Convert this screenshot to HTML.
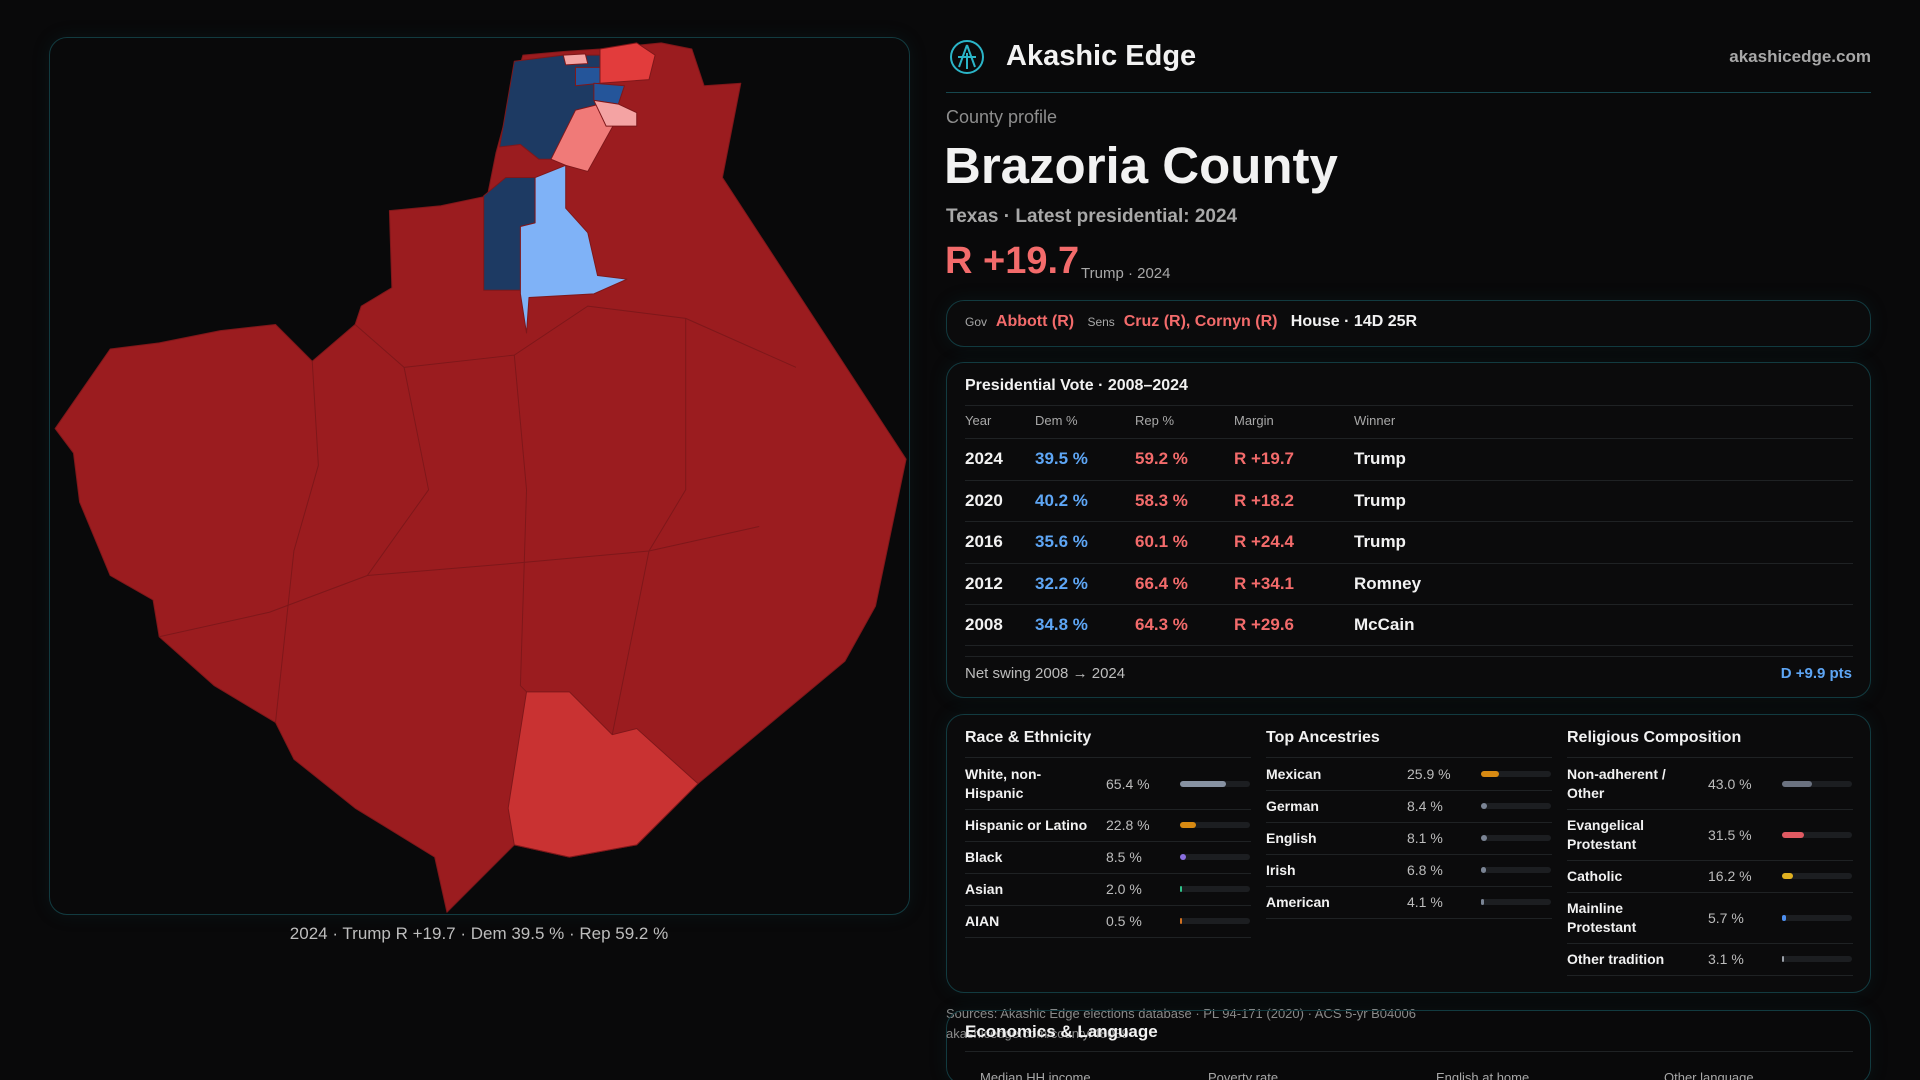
<!DOCTYPE html>
<html style="width:1920px;height:1080px;overflow:hidden"><head><meta charset="utf-8"><style>
*{margin:0;padding:0;box-sizing:border-box}
body{width:1920px;height:1080px;background:#09090a;font-family:"Liberation Sans",sans-serif;color:#f2f2f2;position:relative;overflow:hidden}
.a{position:absolute;white-space:nowrap}
.panel{position:absolute;border:1px solid #123b40;border-radius:18px;background:#0b0b0c;box-shadow:0 0 18px rgba(20,80,90,.15)}
.r{color:#f36b6b}.b{color:#5ea6f5}.g{color:#a8a8a8}
.hr{position:absolute;height:1px;background:#1f2224}
.bar{position:absolute;height:6px;border-radius:3px;background:#1c1e21;width:70px}
.bar i{position:absolute;left:0;top:0;bottom:0;border-radius:3px}
</style></head><body>
<div class="panel" style="left:49px;top:37px;width:861px;height:878px;background:#09090a"></div>
<svg class="a" style="left:0;top:0" width="1920" height="1080" viewBox="0 0 1568 882">
<g stroke="#7e171a" stroke-width="0.8" stroke-linejoin="round">
<polygon fill="#9b1c1f" points="427,45 460,42 490,40 540,35 565,40 575,70 605,68 590,145 740,375 715,495 690,540 570,640 520,690 465,700 420,690 365,745 355,700 290,660 240,620 225,590 175,560 130,520 125,490 90,470 65,410 60,370 45,350 90,285 130,280 180,270 225,265 255,295 290,265 295,250 320,235 318,172 360,168 398,160 405,125 420,70"/>
<polyline fill="none" points="290,265 330,300 420,290 480,250 560,260 650,300"/>
<polyline fill="none" points="130,520 220,500 300,470 420,460 530,450 620,430"/>
<polyline fill="none" points="255,295 260,380 240,450 225,590"/>
<polyline fill="none" points="420,290 430,400 425,560 430,565"/>
<polyline fill="none" points="560,260 560,400 530,450 500,600"/>
<polyline fill="none" points="330,300 350,400 300,470"/>
<polygon fill="#c93232" points="430,565 465,565 500,600 520,595 570,640 520,690 465,700 420,690 415,660"/>
<polygon fill="#1d3a63" points="420,50 460,45 490,45 490,85 470,90 460,130 440,130 425,118 408,120"/>
<polygon fill="#1d3a63" points="395,160 413,145 437,145 437,182 425,185 425,237 395,237"/>
<polygon fill="#24559a" points="470,55 490,55 490,68 470,70"/>
<polygon fill="#24559a" points="485,68 510,70 505,85 485,82"/>
<polygon fill="#7fb2f7" points="437,145 462,135 462,170 480,190 488,225 512,228 485,240 432,243 430,272 425,240 425,185 437,182"/>
<polygon fill="#f07a78" points="470,90 490,85 505,95 480,140 462,135 450,130 460,110"/>
<polygon fill="#f4a3a3" points="485,82 505,85 520,92 520,103 495,103"/>
<polygon fill="#f4a3a3" points="460,45 478,44 480,52 462,53"/>
<polygon fill="#e23c3c" points="490,40 520,35 535,45 530,65 490,68"/>
</g></svg>
<div class="a" style="left:0;width:958px;top:924px;text-align:center;font-size:17px;color:#bdbdbd">2024 · Trump R +19.7 · Dem 39.5 % · Rep 59.2 %</div>

<svg class="a" style="left:949px;top:39px" width="36" height="36"><circle cx="18" cy="18" r="16" fill="none" stroke="#2bb5c8" stroke-width="2"/><path d="M18 6 L10 28 M18 6 L26 28 M9 18 H27 M18 14 V30" stroke="#2bb5c8" stroke-width="2" fill="none"/></svg>
<div class="a" style="left:1006px;top:40px;font-size:29px;font-weight:bold">Akashic Edge</div>
<div class="a g" style="right:49px;top:47px;font-size:17px;font-weight:bold">akashicedge.com</div>
<div class="hr" style="left:946px;width:925px;top:92px;background:#16474e"></div>
<div class="a" style="left:946px;top:107px;font-size:18px;color:#8e8e8e">County profile</div>
<div class="a" style="left:944px;top:136px;font-size:51px;font-weight:bold">Brazoria County</div>
<div class="a" style="left:946px;top:206px;font-size:19px;color:#a8a8a8;font-weight:bold">Texas · Latest presidential: 2024</div>
<div class="a r" style="left:945px;top:240px;font-size:38px;font-weight:bold">R +19.7</div>
<div class="a g" style="left:1081px;top:265px;font-size:15px">Trump · 2024</div>

<div class="panel" style="left:946px;top:300px;width:925px;height:47px"></div>
<div class="a" style="left:965px;top:313px;font-size:16px"><span class="g" style="font-size:12px">Gov</span>&nbsp; <b class="r">Abbott (R)</b> &nbsp;&nbsp;<span class="g" style="font-size:12px">Sens</span>&nbsp; <b class="r">Cruz (R), Cornyn (R)</b> &nbsp;&nbsp;<b>House · 14D 25R</b></div>

<div class="panel" style="left:946px;top:362px;width:925px;height:336px"></div>
<div class="a" style="left:965px;top:377px;font-size:16px;font-weight:bold">Presidential Vote · 2008–2024</div>
<div class="hr" style="left:965px;width:888px;top:405px"></div>
<div class="a g" style="left:965px;top:413px;font-size:13px">Year</div>
<div class="a g" style="left:1035px;top:413px;font-size:13px">Dem %</div>
<div class="a g" style="left:1135px;top:413px;font-size:13px">Rep %</div>
<div class="a g" style="left:1234px;top:413px;font-size:13px">Margin</div>
<div class="a g" style="left:1354px;top:413px;font-size:13px">Winner</div>
<div style="position:absolute;left:965px;top:438px;width:888px;font-size:17px;font-weight:bold">
<div style="position:relative;height:41.5px;border-top:1px solid #1f2224"><span class="a" style="left:0;top:10px">2024</span><span class="a b" style="left:70px;top:10px">39.5 %</span><span class="a r" style="left:170px;top:10px">59.2 %</span><span class="a r" style="left:269px;top:10px">R +19.7</span><span class="a" style="left:389px;top:10px">Trump</span></div>
<div style="position:relative;height:41.5px;border-top:1px solid #1f2224"><span class="a" style="left:0;top:10px">2020</span><span class="a b" style="left:70px;top:10px">40.2 %</span><span class="a r" style="left:170px;top:10px">58.3 %</span><span class="a r" style="left:269px;top:10px">R +18.2</span><span class="a" style="left:389px;top:10px">Trump</span></div>
<div style="position:relative;height:41.5px;border-top:1px solid #1f2224"><span class="a" style="left:0;top:10px">2016</span><span class="a b" style="left:70px;top:10px">35.6 %</span><span class="a r" style="left:170px;top:10px">60.1 %</span><span class="a r" style="left:269px;top:10px">R +24.4</span><span class="a" style="left:389px;top:10px">Trump</span></div>
<div style="position:relative;height:41.5px;border-top:1px solid #1f2224"><span class="a" style="left:0;top:10px">2012</span><span class="a b" style="left:70px;top:10px">32.2 %</span><span class="a r" style="left:170px;top:10px">66.4 %</span><span class="a r" style="left:269px;top:10px">R +34.1</span><span class="a" style="left:389px;top:10px">Romney</span></div>
<div style="position:relative;height:41.5px;border-top:1px solid #1f2224;border-bottom:1px solid #1f2224"><span class="a" style="left:0;top:10px">2008</span><span class="a b" style="left:70px;top:10px">34.8 %</span><span class="a r" style="left:170px;top:10px">64.3 %</span><span class="a r" style="left:269px;top:10px">R +29.6</span><span class="a" style="left:389px;top:10px">McCain</span></div>
</div>
<div class="hr" style="left:965px;width:888px;top:656px"></div>
<div class="a" style="left:965px;top:665px;font-size:15px;color:#bdbdbd">Net swing 2008 → 2024</div>
<div class="a b" style="right:68px;top:665px;font-size:15px;font-weight:bold">D +9.9 pts</div>

<div class="panel" style="left:946px;top:714px;width:925px;height:279px"></div>
<div id="cols"></div>
<div class="a" style="left:946px;top:1006px;font-size:13px;color:#8a8a8a">Sources: Akashic Edge elections database · PL 94-171 (2020) · ACS 5-yr B04006</div>
<div class="panel" style="left:946px;top:1010px;width:925px;height:75px;background:transparent"></div>
<div class="a" style="left:946px;top:1026px;font-size:13px;color:#8a8a8a">akashicedge.com/county/48039</div>
<div class="a" style="left:965px;top:1022px;font-size:17px;font-weight:bold">Economics &amp; Language</div>
<div class="hr" style="left:965px;width:888px;top:1051px"></div>
<div class="a g" style="left:980px;top:1070px;font-size:13px">Median HH income</div>
<div class="a g" style="left:1208px;top:1070px;font-size:13px">Poverty rate</div>
<div class="a g" style="left:1436px;top:1070px;font-size:13px">English at home</div>
<div class="a g" style="left:1664px;top:1070px;font-size:13px">Other language</div>
<script>
var C=[[965,"Race & Ethnicity",[["White, non-<br>Hispanic","65.4 %",65,"#8792a2",2],["Hispanic or Latino","22.8 %",23,"#d88a12",1],["Black","8.5 %",8,"#8a6fe0",1],["Asian","2.0 %",2,"#2fc28a",1],["AIAN","0.5 %",1,"#d07020",1]]],
[1266,"Top Ancestries",[["Mexican","25.9 %",26,"#d88a12",1],["German","8.4 %",8,"#7a8494",1],["English","8.1 %",8,"#7a8494",1],["Irish","6.8 %",7,"#7a8494",1],["American","4.1 %",4,"#7a8494",1]]],
[1567,"Religious Composition",[["Non-adherent /<br>Other","43.0 %",43,"#6b7280",2],["Evangelical<br>Protestant","31.5 %",32,"#e05a62",2],["Catholic","16.2 %",16,"#e0b020",1],["Mainline<br>Protestant","5.7 %",6,"#4d8ff0",2],["Other tradition","3.1 %",3,"#9aa0a8",1]]]];
var h="";C.forEach(function(c){var x=c[0];h+='<div class="a" style="left:'+x+'px;top:729px;font-size:16px;font-weight:bold">'+c[1]+'</div><div class="hr" style="left:'+x+'px;top:757px;width:286px"></div>';var y=758;c[2].forEach(function(r){var hh=r[4]==2?51:32;var m=y+hh/2;h+='<div class="a" style="left:'+x+'px;top:'+(m-(r[4]==2?19:9))+'px;font-size:14px;font-weight:bold;line-height:19px;white-space:normal">'+r[0]+'</div><div class="a" style="left:'+(x+141)+'px;top:'+(m-8)+'px;font-size:14px;color:#bdbdbd">'+r[1]+'</div><div class="bar" style="left:'+(x+215)+'px;top:'+(m-3)+'px"><i style="width:'+Math.max(2,r[2]*0.7)+'px;background:'+r[3]+'"></i></div><div class="hr" style="left:'+x+'px;width:286px;top:'+(y+hh)+'px"></div>';y+=hh;});});
document.getElementById("cols").innerHTML=h;
</script>
</body></html>
